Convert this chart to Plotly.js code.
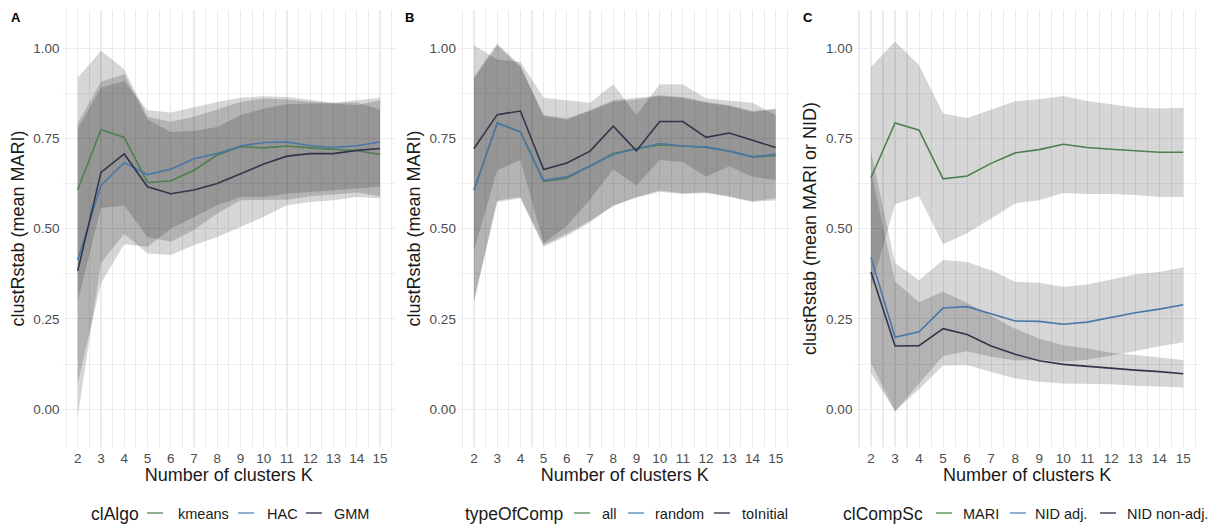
<!DOCTYPE html>
<html>
<head>
<meta charset="utf-8">
<script src="https://cdn.plot.ly/plotly-3.0.1.min.js"></script>
<style>
  html, body { margin: 0; padding: 0; background: #ffffff; }
  #chart { width: 1208px; height: 524px; }
</style>
</head>
<body>
<div id="chart"></div>
<script>
// Number of clusters
const K = [2, 3, 4, 5, 6, 7, 8, 9, 10, 11, 12, 13, 14, 15];

// Panel A: clustering algorithm
const clAlgoNames = ["kmeans", "HAC", "GMM"];
const kmeansMean = [0.608, 0.775, 0.753, 0.628, 0.632, 0.662, 0.704, 0.727, 0.724, 0.729, 0.724, 0.720, 0.716, 0.706];
const kmeansLo   = [0.298, 0.557, 0.564, 0.477, 0.464, 0.496, 0.542, 0.579, 0.580, 0.580, 0.590, 0.595, 0.600, 0.590];
const kmeansHi   = [0.918, 0.993, 0.942, 0.810, 0.796, 0.810, 0.830, 0.851, 0.861, 0.858, 0.852, 0.848, 0.850, 0.830];
const hacMean    = [0.413, 0.620, 0.683, 0.650, 0.665, 0.694, 0.708, 0.729, 0.739, 0.740, 0.730, 0.725, 0.730, 0.740];
const hacLo      = [0.072, 0.349, 0.457, 0.450, 0.500, 0.533, 0.565, 0.588, 0.588, 0.597, 0.602, 0.607, 0.611, 0.616];
const hacHi      = [0.777, 0.891, 0.909, 0.828, 0.822, 0.837, 0.851, 0.863, 0.867, 0.865, 0.858, 0.849, 0.856, 0.863];
const gmmMean    = [0.383, 0.656, 0.707, 0.616, 0.597, 0.607, 0.625, 0.651, 0.679, 0.701, 0.708, 0.708, 0.717, 0.722];
const gmmLo      = [-0.021, 0.405, 0.486, 0.431, 0.427, 0.454, 0.477, 0.505, 0.533, 0.565, 0.574, 0.579, 0.588, 0.584];
const gmmHi      = [0.792, 0.907, 0.928, 0.803, 0.768, 0.771, 0.782, 0.814, 0.833, 0.845, 0.847, 0.847, 0.842, 0.856];

// Panel B: type of comparison
const typeNames = ["all", "random", "toInitial"];
const allMean    = [0.607, 0.793, 0.768, 0.631, 0.640, 0.673, 0.708, 0.722, 0.732, 0.729, 0.726, 0.715, 0.699, 0.702];
const allLo      = [0.297, 0.574, 0.584, 0.450, 0.480, 0.518, 0.565, 0.586, 0.602, 0.596, 0.599, 0.588, 0.574, 0.579];
const allHi      = [0.921, 1.013, 0.953, 0.812, 0.802, 0.828, 0.856, 0.863, 0.870, 0.865, 0.851, 0.842, 0.826, 0.833];
const randomMean = [0.607, 0.793, 0.768, 0.634, 0.644, 0.673, 0.706, 0.722, 0.736, 0.729, 0.726, 0.715, 0.699, 0.707];
const randomLo   = [0.300, 0.578, 0.588, 0.455, 0.486, 0.522, 0.562, 0.588, 0.606, 0.598, 0.601, 0.590, 0.576, 0.584];
const randomHi   = [0.916, 1.008, 0.948, 0.815, 0.806, 0.826, 0.852, 0.858, 0.868, 0.862, 0.849, 0.840, 0.823, 0.831];
const initMean   = [0.722, 0.816, 0.826, 0.664, 0.682, 0.715, 0.784, 0.716, 0.797, 0.797, 0.753, 0.765, 0.745, 0.725];
const initLo     = [0.440, 0.662, 0.690, 0.459, 0.508, 0.581, 0.665, 0.620, 0.690, 0.685, 0.644, 0.673, 0.644, 0.634];
const initHi     = [1.008, 0.969, 0.962, 0.863, 0.856, 0.849, 0.900, 0.814, 0.900, 0.900, 0.861, 0.856, 0.849, 0.814];

// Panel C: comparison score
const scoreNames = ["MARI", "NID adj.", "NID non-adj."];
const mariMean   = [0.641, 0.793, 0.773, 0.638, 0.646, 0.681, 0.710, 0.719, 0.734, 0.725, 0.720, 0.717, 0.712, 0.712];
const mariLo     = [0.334, 0.568, 0.590, 0.457, 0.487, 0.528, 0.570, 0.579, 0.599, 0.596, 0.596, 0.593, 0.588, 0.588];
const mariHi     = [0.948, 1.019, 0.953, 0.819, 0.807, 0.830, 0.853, 0.859, 0.868, 0.854, 0.844, 0.836, 0.833, 0.835];
const nidAdjMean = [0.420, 0.199, 0.214, 0.280, 0.284, 0.265, 0.244, 0.243, 0.235, 0.241, 0.254, 0.267, 0.277, 0.289];
const nidAdjLo   = [0.128, -0.007, 0.071, 0.147, 0.160, 0.145, 0.135, 0.136, 0.131, 0.137, 0.149, 0.160, 0.174, 0.185];
const nidAdjHi   = [0.713, 0.405, 0.357, 0.413, 0.408, 0.385, 0.353, 0.350, 0.339, 0.345, 0.359, 0.374, 0.380, 0.393];
const nidNonMean = [0.380, 0.175, 0.176, 0.223, 0.207, 0.175, 0.152, 0.134, 0.124, 0.118, 0.114, 0.108, 0.104, 0.098];
const nidNonLo   = [0.100, -0.005, 0.055, 0.121, 0.122, 0.103, 0.085, 0.076, 0.071, 0.069, 0.069, 0.065, 0.062, 0.060];
const nidNonHi   = [0.660, 0.353, 0.297, 0.325, 0.295, 0.260, 0.223, 0.196, 0.177, 0.168, 0.156, 0.150, 0.143, 0.136];

// Styling
const W = 1208, H = 524;
const lineColors = ["#4f7f4f", "#4a77a6", "#30354a"];
const keyColors  = ["#8db38d", "#8cb0d6", "#717689"];
const bandFill = "rgba(0,0,0,0.16)";
const FONT = "Liberation Sans, Arial, Helvetica, sans-serif";

const panels = [
  { xa: "x",  ya: "y",  names: clAlgoNames,
    mean: [kmeansMean, hacMean, gmmMean], lo: [kmeansLo, hacLo, gmmLo], hi: [kmeansHi, hacHi, gmmHi] },
  { xa: "x2", ya: "y2", names: typeNames,
    mean: [allMean, randomMean, initMean], lo: [allLo, randomLo, initLo], hi: [allHi, randomHi, initHi] },
  { xa: "x3", ya: "y3", names: scoreNames,
    mean: [mariMean, nidAdjMean, nidNonMean], lo: [mariLo, nidAdjLo, nidNonLo], hi: [mariHi, nidAdjHi, nidNonHi] }
];

const traces = [];
panels.forEach(p => {
  // ribbons first, so every mean line sits on top
  p.names.forEach((n, i) => {
    traces.push({
      type: "scatter", mode: "lines",
      x: K.concat(K.slice().reverse()),
      y: p.hi[i].concat(p.lo[i].slice().reverse()),
      fill: "toself", fillcolor: bandFill,
      line: { width: 0 }, hoverinfo: "skip", showlegend: false,
      xaxis: p.xa, yaxis: p.ya
    });
  });
  p.names.forEach((n, i) => {
    traces.push({
      type: "scatter", mode: "lines", name: n,
      x: K, y: p.mean[i],
      line: { color: lineColors[i], width: 1.6 },
      showlegend: false, xaxis: p.xa, yaxis: p.ya
    });
  });
});

// Plot regions in pixels
const xPix = [[62.6, 395.1], [458.9, 790.8], [855.4, 1198.9]];
const yPix = [10, 447];
const yDomain = [1 - yPix[1] / H, 1 - yPix[0] / H];

function xAxis(i) {
  return {
    domain: [xPix[i][0] / W, xPix[i][1] / W],
    anchor: ["y", "y2", "y3"][i],
    range: [1.35, 15.65],
    tickmode: "linear", tick0: 2, dtick: 1,
    showgrid: true, gridcolor: "#ebebeb", gridwidth: 1.1,
    minor: { tick0: 1.5, dtick: 1, showgrid: true, gridcolor: "#ebebeb", gridwidth: 1.1 },
    zeroline: false, showline: false, ticks: "",
    tickfont: { family: FONT, size: 13.5, color: "#4d4d4d" },
    ticklabelstandoff: 1,
    title: { text: "Number of clusters K", font: { family: FONT, size: 18, color: "#1a1a1a" }, standoff: 3 },
    fixedrange: true
  };
}
const yTitles = ["clustRstab (mean MARI)", "clustRstab (mean MARI)", "clustRstab (mean MARI or NID)"];
function yAxis(i) {
  return {
    domain: yDomain,
    anchor: ["x", "x2", "x3"][i],
    range: [-0.105, 1.106],
    tickmode: "linear", tick0: 0, dtick: 0.25, tickformat: ".2f",
    showgrid: true, gridcolor: "#ebebeb", gridwidth: 1.1,
    minor: { tick0: 0.125, dtick: 0.25, showgrid: true, gridcolor: "#ebebeb", gridwidth: 0.8 },
    zeroline: false, showline: false, ticks: "",
    tickfont: { family: FONT, size: 13.5, color: "#4d4d4d" },
    ticklabelstandoff: 2,
    title: { text: yTitles[i], font: { family: FONT, size: 18, color: "#1a1a1a" }, standoff: 4 },
    fixedrange: true
  };
}

// Legends below each panel: title, short key line, label
const legendTitles = ["clAlgo", "typeOfComp", "clCompSc"];
const legendLayout = [
  { title: 89,  keys: [147, 238, 306], labels: [176, 265, 332] },
  { title: 463, keys: [574, 628, 714], labels: [600, 653, 740] },
  { title: 841, keys: [936, 1010, 1100], labels: [961, 1033, 1125] }
];
const legendY = 1 - 514 / H;
const annotations = [];
const shapes = [];
panels.forEach((p, i) => {
  const L = legendLayout[i];
  annotations.push({
    xref: "paper", yref: "paper", x: L.title / W, y: legendY,
    xanchor: "left", yanchor: "middle", showarrow: false,
    text: legendTitles[i], font: { family: FONT, size: 17.5, color: "#1a1a1a" }
  });
  p.names.forEach((n, j) => {
    shapes.push({
      type: "line", xref: "paper", yref: "paper",
      x0: L.keys[j] / W, x1: (L.keys[j] + 16) / W, y0: legendY + 1 / H, y1: legendY + 1 / H,
      line: { color: keyColors[j], width: 2 }
    });
    annotations.push({
      xref: "paper", yref: "paper", x: L.labels[j] / W, y: legendY,
      xanchor: "left", yanchor: "middle", showarrow: false,
      text: n, font: { family: FONT, size: 14.5, color: "#1a1a1a" }
    });
  });
});

// Panel tags
[["A", 9], ["B", 403], ["C", 801]].forEach(t => {
  annotations.push({
    xref: "paper", yref: "paper", x: t[1] / W, y: 1 - 17 / H,
    xanchor: "left", yanchor: "middle", showarrow: false,
    text: "<b>" + t[0] + "</b>", font: { family: FONT, size: 13, color: "#000000" }
  });
});

const layout = {
  width: W, height: H,
  margin: { l: 0, r: 0, t: 0, b: 0 },
  paper_bgcolor: "#ffffff", plot_bgcolor: "#ffffff",
  showlegend: false,
  xaxis: xAxis(0), xaxis2: xAxis(1), xaxis3: xAxis(2),
  yaxis: yAxis(0), yaxis2: yAxis(1), yaxis3: yAxis(2),
  annotations: annotations,
  shapes: shapes,
  font: { family: FONT }
};

Plotly.newPlot("chart", traces, layout, { displayModeBar: false, staticPlot: true });
</script>
</body>
</html>
